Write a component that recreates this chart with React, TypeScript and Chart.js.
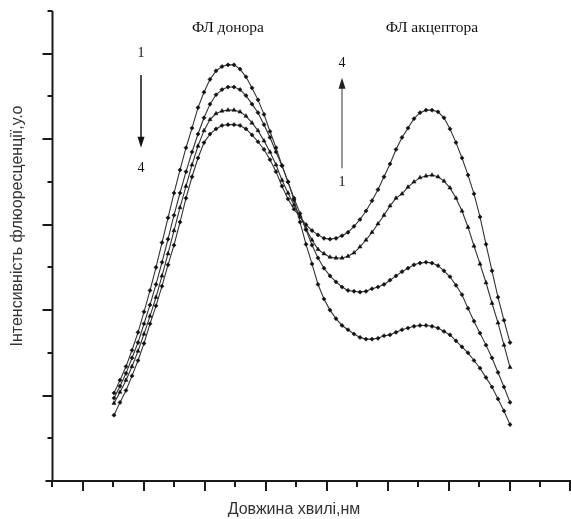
import React, { useEffect, useRef } from "react";
import { Chart, registerables } from "chart.js";

Chart.register(...registerables);

// Wavelength, nm
const wavelengths = [
  460, 462, 464, 466, 468, 470, 472, 474, 476, 478, 480, 482, 484, 486, 488, 490, 492, 494, 496, 498,
  500, 502, 504, 506, 508, 510, 512, 514, 516, 518, 520, 522, 524, 526, 528, 530, 532, 534, 536, 538,
  540, 542, 544, 546, 548, 550, 552, 554, 556, 558, 560, 562, 564, 566, 568, 570, 572, 574, 576, 578,
  580, 582, 584, 586, 588, 590, 592,
];

// Fluorescence intensity, a.u. (curves 1..4)
const curve1 = [
  103, 118, 134, 153, 174, 198, 223, 250, 279, 308, 337, 364, 390, 413, 437, 455, 470, 480, 485, 487,
  487, 482, 473, 460, 446, 429, 409, 390, 369, 350, 329, 303, 277, 254, 230, 213, 200, 190, 182, 177,
  172, 168, 166, 166, 167, 170, 171, 174, 177, 179, 181, 182, 182, 181, 179, 175, 171, 164, 157, 150,
  141, 132, 121, 110, 96, 82, 66,
];
const curve2 = [
  97, 111, 126, 144, 162, 184, 206, 230, 256, 283, 311, 337, 362, 385, 406, 425, 441, 452, 458, 461,
  461, 458, 451, 441, 431, 417, 402, 385, 369, 350, 331, 313, 294, 276, 261, 249, 240, 233, 227, 223,
  222, 221, 222, 225, 227, 230, 235, 240, 245, 249, 253, 255, 256, 255, 252, 246, 239, 229, 218, 202,
  187, 173, 159, 144, 127, 110, 92,
];
const curve3 = [
  91, 104, 118, 134, 152, 172, 193, 215, 240, 266, 293, 320, 345, 370, 392, 410, 423, 430, 433, 434,
  434, 432, 427, 419, 410, 398, 385, 370, 352, 337, 323, 310, 295, 282, 271, 266, 262, 261, 261, 263,
  267, 274, 282, 291, 301, 311, 322, 331, 336, 344, 350, 355, 357, 358, 356, 351, 343, 331, 316, 297,
  275, 254, 232, 208, 185, 159, 133,
];
const curve4 = [
  77, 92, 106, 123, 141, 161, 184, 205, 228, 253, 276, 303, 331, 356, 378, 396, 406, 412, 416, 417,
  417, 416, 412, 405, 397, 388, 376, 362, 345, 330, 318, 309, 300, 293, 288, 284, 283, 284, 287, 291,
  298, 306, 316, 328, 341, 356, 371, 388, 402, 413, 424, 431, 434, 434, 432, 425, 412, 396, 378, 358,
  336, 309, 277, 246, 215, 188, 162,
];

const seriesNames = ["1", "2", "3", "4"];
const seriesValues = [curve1, curve2, curve3, curve4];
const markerStyles = ["rectRot", "rectRot", "triangle", "rectRot"];

const X_MIN = 439.33;
const X_MAX = 612.33;
const X_TICK_COUNT = 17;
const Y_MIN = 0;
const Y_MAX = 550;
const Y_MINOR_STEP = 50;

const xTitle = "Довжина хвилі,нм";
const yTitle = "Інтенсивність флюоресценції,у.о";
const donorLabel = "ФЛ донора";
const acceptorLabel = "ФЛ акцептора";

const framePlugin = {
  id: "frameAndNotes",
  beforeDatasetsDraw(chart: any) {
    const { ctx, chartArea, scales } = chart;
    const xs = scales.x;
    const ys = scales.y;
    const x0 = chartArea.left + 0.5;
    const y0 = chartArea.bottom;
    ctx.save();
    ctx.strokeStyle = "#1a1a1a";
    ctx.lineWidth = 2;
    ctx.beginPath();
    ctx.moveTo(x0, chartArea.top);
    ctx.lineTo(x0, y0);
    ctx.moveTo(x0 - 7, y0);
    ctx.lineTo(chart.width, y0);
    ctx.stroke();
    // x ticks
    const step = (X_MAX - X_MIN) / X_TICK_COUNT;
    for (let k = 0; k <= X_TICK_COUNT; k++) {
      const px = Math.min(Math.round(xs.getPixelForValue(X_MIN + k * step)), chart.width - 1);
      const len = k % 2 === 1 ? 10 : 6;
      ctx.beginPath();
      ctx.moveTo(px, y0);
      ctx.lineTo(px, y0 + len);
      ctx.stroke();
    }
    // y ticks
    for (let v = Y_MINOR_STEP; v <= Y_MAX; v += Y_MINOR_STEP) {
      const py = Math.round(ys.getPixelForValue(v));
      const len = v % 100 === 0 ? 10 : 5;
      ctx.beginPath();
      ctx.moveTo(x0, py);
      ctx.lineTo(x0 - len, py);
      ctx.stroke();
    }
    ctx.restore();
  },
  afterDraw(chart: any) {
    const { ctx, scales } = chart;
    const xs = scales.x;
    const ys = scales.y;
    ctx.save();
    // axis titles
    ctx.fillStyle = "#333";
    ctx.font = '16px "Liberation Sans", Arial, sans-serif';
    ctx.textAlign = "center";
    ctx.textBaseline = "middle";
    ctx.fillText(xTitle, 294, 510);
    ctx.save();
    ctx.translate(18, 226);
    ctx.rotate(-Math.PI / 2);
    ctx.fillText(yTitle, 0, 0);
    ctx.restore();

    // annotations
    ctx.fillStyle = "#111";
    ctx.font = '15.5px "Liberation Serif", "Times New Roman", serif';
    ctx.fillText(donorLabel, xs.getPixelForValue(498), ys.getPixelForValue(530));
    ctx.fillText(acceptorLabel, xs.getPixelForValue(566), ys.getPixelForValue(530));

    ctx.font = '14px "Liberation Serif", "Times New Roman", serif';
    const ax1 = xs.getPixelForValue(469);
    ctx.fillText("1", ax1, ys.getPixelForValue(501));
    ctx.fillText("4", ax1, ys.getPixelForValue(366));
    const a1Top = ys.getPixelForValue(475);
    const a1Bot = ys.getPixelForValue(390);
    ctx.strokeStyle = "#111";
    ctx.lineWidth = 1.5;
    ctx.beginPath();
    ctx.moveTo(ax1, a1Top);
    ctx.lineTo(ax1, a1Bot - 9);
    ctx.stroke();
    ctx.beginPath();
    ctx.moveTo(ax1 - 3.5, a1Bot - 11);
    ctx.lineTo(ax1 + 3.5, a1Bot - 11);
    ctx.lineTo(ax1, a1Bot);
    ctx.closePath();
    ctx.fill();

    const ax2 = xs.getPixelForValue(536);
    ctx.fillText("4", ax2, ys.getPixelForValue(489));
    ctx.fillText("1", ax2, ys.getPixelForValue(349));
    const a2Top = ys.getPixelForValue(472);
    const a2Bot = ys.getPixelForValue(366);
    ctx.strokeStyle = "#555";
    ctx.lineWidth = 1.2;
    ctx.beginPath();
    ctx.moveTo(ax2, a2Bot);
    ctx.lineTo(ax2, a2Top + 9);
    ctx.stroke();
    ctx.fillStyle = "#222";
    ctx.beginPath();
    ctx.moveTo(ax2 - 3.5, a2Top + 11);
    ctx.lineTo(ax2 + 3.5, a2Top + 11);
    ctx.lineTo(ax2, a2Top);
    ctx.closePath();
    ctx.fill();
    ctx.restore();
  },
};

export default function App() {
  const canvasRef = useRef<HTMLCanvasElement | null>(null);

  useEffect(() => {
    if (!canvasRef.current) return;
    const datasets = seriesValues.map((vals, si) => ({
      label: seriesNames[si],
      data: wavelengths.map((w, i) => ({ x: w, y: vals[i] })),
      borderColor: "#333",
      borderWidth: 1.1,
      backgroundColor: "#111",
      pointBackgroundColor: "#111",
      pointBorderColor: "#111",
      pointBorderWidth: 0.5,
      pointStyle: markerStyles[si] as any,
      pointRadius: si === 2 ? 2.4 : 2.1,
      tension: 0,
      fill: false,
    }));
    const chart = new Chart(canvasRef.current, {
      type: "line",
      data: { datasets },
      options: {
        responsive: false,
        animation: false,
        events: [],
        layout: { autoPadding: false, padding: { left: 52, right: 0, top: 11, bottom: 38 } },
        plugins: {
          legend: { display: false },
          tooltip: { enabled: false },
          title: { display: false },
        },
        scales: {
          x: { type: "linear", min: X_MIN, max: X_MAX, display: false },
          y: { type: "linear", min: Y_MIN, max: Y_MAX, display: false },
        },
      },
      plugins: [framePlugin],
    });
    return () => chart.destroy();
  }, []);

  return (
    <div style={{ position: "absolute", left: 0, top: 0, width: 571, height: 519, background: "#fff" }}>
      <canvas ref={canvasRef} width={571} height={519} style={{ width: 571, height: 519, display: "block" }} />
    </div>
  );
}
